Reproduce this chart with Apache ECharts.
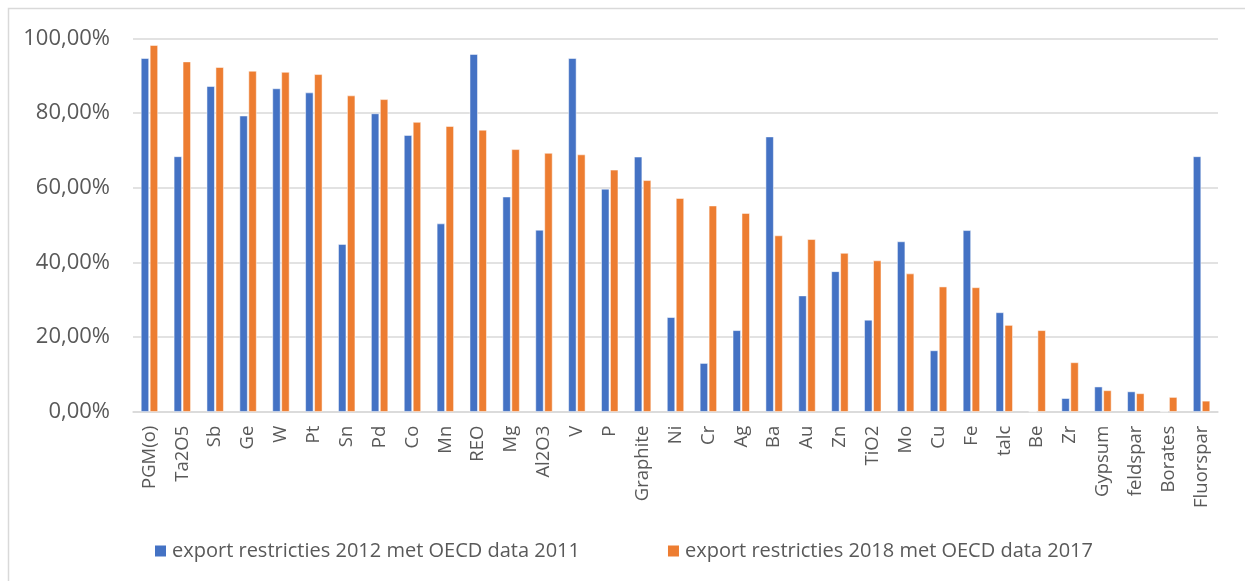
<!DOCTYPE html>
<html>
<head>
<meta charset="utf-8">
<script src="https://cdn.jsdelivr.net/npm/echarts@6/dist/echarts.min.js"></script>
<style>
  html, body { margin: 0; padding: 0; background: #fff; }
  #chart { width: 1245px; height: 581px; }
</style>
</head>
<body>
<div id="chart"></div>
<script>
// Share of trade under export restrictions per raw material
const categories = ['PGM(o)', 'Ta2O5', 'Sb', 'Ge', 'W', 'Pt', 'Sn', 'Pd', 'Co', 'Mn', 'REO', 'Mg', 'Al2O3', 'V', 'P', 'Graphite', 'Ni', 'Cr', 'Ag', 'Ba', 'Au', 'Zn', 'TiO2', 'Mo', 'Cu', 'Fe', 'talc', 'Be', 'Zr', 'Gypsum', 'feldspar', 'Borates', 'Fluorspar'];

const seriesNames = ['export restricties 2012 met OECD data 2011', 'export restricties 2018 met OECD data 2017'];

// values in percent
const values2012 = [94.7, 68.4, 87.2, 79.3, 86.6, 85.5, 44.9, 79.9, 74.1, 50.4, 95.8, 57.6, 48.7, 94.7, 59.7, 68.3, 25.3, 13.0, 21.8, 73.7, 31.1, 37.6, 24.6, 45.6, 16.4, 48.6, 26.6, 0, 3.6, 6.7, 5.4, 0, 68.4];
const values2018 = [98.2, 93.8, 92.3, 91.3, 91.0, 90.4, 84.7, 83.7, 77.6, 76.5, 75.5, 70.3, 69.3, 68.9, 64.8, 62.0, 57.2, 55.2, 53.2, 47.2, 46.2, 42.5, 40.5, 37.0, 33.5, 33.3, 23.2, 21.8, 13.2, 5.7, 4.9, 3.9, 2.9];

const yTicks = [0, 20, 40, 60, 80, 100];

const FONT = 'Open Sans';
const TEXT = '#595959';
const GRID_LINE = '#d9d9d9';

const chart = echarts.init(document.getElementById('chart'), null, { renderer: 'canvas' });

chart.setOption({
  backgroundColor: '#fff',
  animation: false,
  graphic: [{
    type: 'rect',
    shape: { x: 8.5, y: 8.5, width: 1400, height: 800 },
    style: { fill: 'none', stroke: GRID_LINE, lineWidth: 1.5 },
    silent: true,
    z: -1
  }],
  grid: { left: 133, right: 27, top: 38.5, bottom: 169.3, containLabel: false },
  legend: {
    left: 148,
    top: 536,
    itemWidth: 13,
    itemHeight: 13,
    itemGap: 86,
    icon: 'rect',
    textStyle: { color: TEXT, fontFamily: FONT, fontSize: 20 },
    data: seriesNames
  },
  xAxis: {
    type: 'category',
    data: categories,
    axisLine: { lineStyle: { color: GRID_LINE, width: 1.5 } },
    axisTick: { show: false },
    axisLabel: {
      rotate: 90,
      interval: 0,
      margin: 14,
      color: TEXT,
      fontFamily: FONT,
      fontSize: 18.5
    }
  },
  yAxis: {
    type: 'value',
    min: yTicks[0],
    max: yTicks[yTicks.length - 1],
    interval: 20,
    axisLine: { show: false },
    axisTick: { show: false },
    splitLine: { lineStyle: { color: GRID_LINE, width: 1.5 } },
    axisLabel: {
      margin: 23,
      color: TEXT,
      fontFamily: FONT,
      fontSize: 22,
      formatter: v => v.toFixed(2).replace('.', ',') + '%'
    }
  },
  series: [
    {
      name: seriesNames[0],
      type: 'bar',
      data: values2012,
      barWidth: 8,
      barGap: '12%',
      itemStyle: { color: '#4472c4', borderColor: '#ffffff', borderWidth: 0.5 }
    },
    {
      name: seriesNames[1],
      type: 'bar',
      data: values2018,
      barWidth: 8,
      barGap: '12%',
      itemStyle: { color: '#ed7d31', borderColor: '#ffffff', borderWidth: 0.5 }
    }
  ]
});
</script>
</body>
</html>
